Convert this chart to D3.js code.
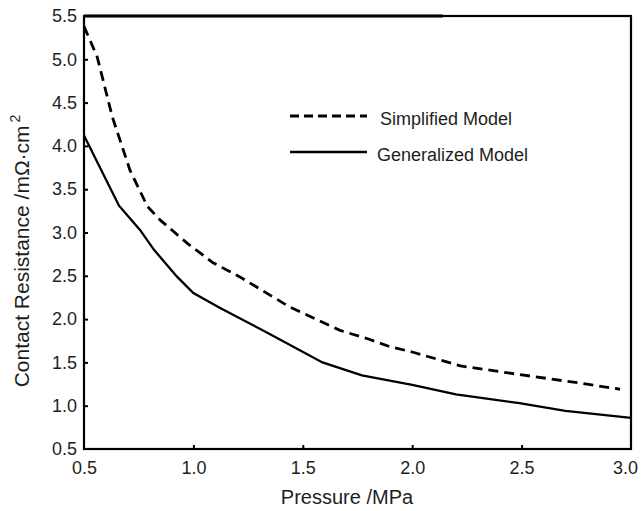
<!DOCTYPE html>
<html>
<head>
<meta charset="utf-8">
<script src="https://cdnjs.cloudflare.com/ajax/libs/d3/7.8.5/d3.min.js"></script>
<style>
    body { margin: 0; background: #fff; }
    text { font-family: "Liberation Sans", Arial, sans-serif; fill: #1e1e1e; }
</style>
</head>
<body>
<div id="chart"></div>
<script>
//pressure values (MPa) and contact resistance for each model
let simp_pressure = [0.5, 0.56, 0.63, 0.71, 0.79, 0.85, 0.97, 1.09, 1.21, 1.44, 1.67, 1.8, 1.9, 2.0, 2.22, 2.49, 2.77, 2.95];
let simp_resist = [5.38, 5.03, 4.33, 3.72, 3.3, 3.14, 2.88, 2.65, 2.49, 2.14, 1.87, 1.77, 1.68, 1.62, 1.46, 1.36, 1.26, 1.19];

let gen_pressure = [0.5, 0.66, 0.756, 0.82, 0.925, 1.0, 1.12, 1.34, 1.59, 1.77, 2.0, 2.2, 2.49, 2.7, 3.0];
let gen_resist = [4.12, 3.31, 3.03, 2.8, 2.49, 2.3, 2.13, 1.84, 1.5, 1.35, 1.24, 1.13, 1.03, 0.94, 0.86];

//tick values
let x_ticks = [0.5, 1.0, 1.5, 2.0, 2.5, 3.0];
let y_ticks = [0.5, 1.0, 1.5, 2.0, 2.5, 3.0, 3.5, 4.0, 4.5, 5.0, 5.5];

//legend labels
let legend_labels = ['Simplified Model', 'Generalized Model'];

const width = 641, height = 511;
const margin = {top: 16, right: 10, bottom: 62, left: 84};

var svg = d3.select('#chart')
    .append('svg')
    .attr('width', width)
    .attr('height', height);

let x = d3.scaleLinear().domain([0.5, 3.0]).range([margin.left, width - margin.right]);
let y = d3.scaleLinear().domain([0.5, 5.5]).range([height - margin.bottom, margin.top]);

//build point lists from the arrays
let simp_data = simp_pressure.map(function(p, i) { return [p, simp_resist[i]]; });
let gen_data = gen_pressure.map(function(p, i) { return [p, gen_resist[i]]; });

let line = d3.line()
    .x(function(d) { return x(d[0]); })
    .y(function(d) { return y(d[1]); });

//bottom axis, ticks point inwards
let x_axis = svg.append('g')
    .attr('transform', `translate(0, ${y(0.5)})`)
    .call(d3.axisBottom(x).tickValues(x_ticks).tickSize(-4).tickPadding(12)
        .tickFormat(d3.format('.1f')));
x_axis.selectAll('text').style('font-size', '18px');
//last label sits against the window edge, pull it in a little
x_axis.selectAll('.tick text').filter(function(d) { return d === 3.0; }).attr('dx', -6);

//left axis
let y_axis = svg.append('g')
    .attr('transform', `translate(${x(0.5)}, 0)`)
    .call(d3.axisLeft(y).tickValues(y_ticks).tickSize(-4).tickPadding(7)
        .tickFormat(d3.format('.1f')));
y_axis.selectAll('text').style('font-size', '18px');

svg.selectAll('.domain').remove();
svg.selectAll('.tick line').attr('stroke', '#000').attr('stroke-width', 2);
//hide the ticks that sit on the frame corners
x_axis.selectAll('.tick line').filter(function(d) { return d === 0.5 || d === 3.0; }).remove();
y_axis.selectAll('.tick line').filter(function(d) { return d === 0.5 || d === 5.5; }).remove();

//frame around the plot
svg.append('rect')
    .attr('x', x(0.5))
    .attr('y', y(5.5))
    .attr('width', x(3.0) - x(0.5))
    .attr('height', y(0.5) - y(5.5))
    .attr('fill', 'none')
    .attr('stroke', '#000')
    .attr('stroke-width', 2.2);

//top edge is drawn heavier on its left part
svg.append('line')
    .attr('x1', x(0.5)).attr('x2', x(2.14))
    .attr('y1', y(5.5)).attr('y2', y(5.5))
    .attr('stroke', '#000')
    .attr('stroke-width', 2.8);

//model curves
svg.append('path')
    .datum(simp_data)
    .attr('d', line)
    .attr('fill', 'none')
    .attr('stroke', '#000')
    .attr('stroke-width', 2.8)
    .attr('stroke-dasharray', '10,6');

svg.append('path')
    .datum(gen_data)
    .attr('d', line)
    .attr('fill', 'none')
    .attr('stroke', '#000')
    .attr('stroke-width', 2.3);

//legend
let legend = svg.append('g')
    .attr('transform', 'translate(290, 116)');

legend_labels.forEach(function(lbl, i) {
    let row = legend.append('g').attr('transform', `translate(0, ${i * 36})`);
    row.append('line')
        .attr('x1', 0).attr('x2', 77)
        .attr('stroke', '#000')
        .attr('stroke-width', i === 0 ? 2.8 : 2.3)
        .attr('stroke-dasharray', i === 0 ? '9,5' : null);
    row.append('text')
        .attr('x', i === 0 ? 90 : 87)
        .attr('y', 3)
        .attr('dy', '0.32em')
        .style('font-size', '18px')
        .text(lbl);
});

//axis titles
svg.append('text')
    .attr('x', 347)
    .attr('y', 504)
    .style('text-anchor', 'middle')
    .style('font-size', '20px')
    .text('Pressure /MPa');

let y_title = svg.append('text')
    .attr('transform', 'translate(29, 251) rotate(-90)')
    .style('text-anchor', 'middle')
    .style('font-size', '21px');
y_title.append('tspan').text('Contact Resistance /mΩ·cm');
y_title.append('tspan')
    .attr('dx', 3)
    .attr('dy', -9)
    .style('font-size', '14px')
    .text('2');
</script>
</body>
</html>
